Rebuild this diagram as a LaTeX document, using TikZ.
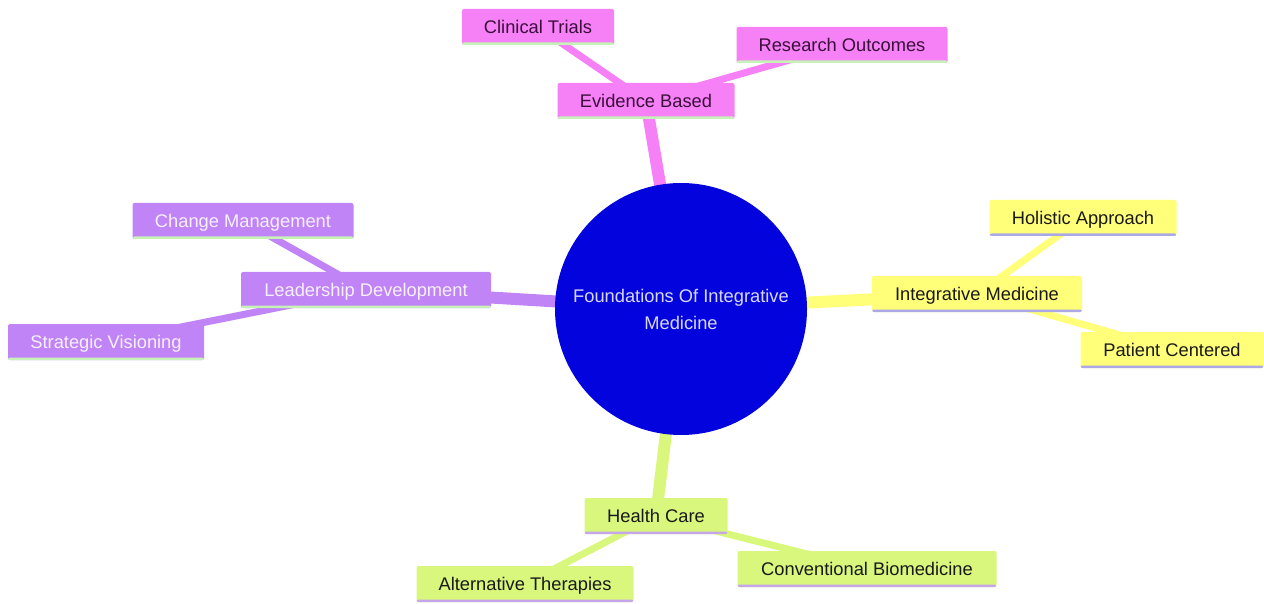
\documentclass[tikz,border=0pt]{standalone}
\usepackage{fontspec}
\setmainfont{Liberation Sans}
\usetikzlibrary{backgrounds}

\definecolor{rootblue}{HTML}{0303DE}
\definecolor{roottext}{HTML}{D8D8F6}
\definecolor{evpink}{HTML}{F680F6}
\definecolor{evtext}{HTML}{3A0F3A}
\definecolor{ldpurple}{HTML}{C084F6}
\definecolor{ldtext}{HTML}{F6F0FF}
\definecolor{imyellow}{HTML}{FFFF7A}
\definecolor{hcgreen}{HTML}{D9F77C}
\definecolor{lineGreen}{HTML}{C6F2B8}
\definecolor{lineLilac}{HTML}{ABA8E8}
\definecolor{linePurple}{HTML}{C5A6E8}

\tikzset{
  topic/.style 2 args={rectangle, rounded corners=2pt, fill=#1, inner sep=0pt,
    minimum height=36pt, text height=13.5pt, text depth=0.4pt,
    font=\fontsize{18.3}{22}\selectfont,
    path picture={\fill[#2] ([yshift=-0.5pt]path picture bounding box.south west) rectangle ([yshift=2.5pt]path picture bounding box.south east);}},
  evbox/.style={topic={evpink}{lineGreen}, text=evtext},
  ldbox/.style={topic={ldpurple}{lineGreen}, text=ldtext},
  imbox/.style={topic={imyellow}{lineLilac}, text=black!90},
  hcbox/.style={topic={hcgreen}{linePurple}, text=black!90},
  branch/.style={line width=12pt},
  twig/.style={line width=7pt}
}

\begin{document}
\begin{tikzpicture}[x=1pt,y=-1pt]
	\useasboundingbox (0,0) rectangle (1264,604);
	
	% root
	\node[circle, fill=rootblue, minimum size=252pt, inner sep=0pt, text=roottext, align=center,
	      font=\fontsize{18.3}{27}\selectfont] (root) at (681,309) {Foundations Of Integrative\\Medicine};
	
	% evidence branch
	\node[evbox, minimum width=177pt] (evid) at (646,101) {Evidence Based};
	\node[evbox, minimum width=152pt] (clin) at (538,27) {Clinical Trials};
	\node[evbox, minimum width=211pt] (resout) at (842,45) {Research Outcomes};
	
	% leadership branch
	\node[ldbox, minimum width=250pt] (lead) at (366,290) {Leadership Development};
	\node[ldbox, minimum width=221pt] (change) at (243,221) {Change Management};
	\node[ldbox, minimum width=196pt] (strat) at (106,342) {Strategic Visioning};
	
	% integrative branch
	\node[imbox, minimum width=210pt] (integ) at (977,294) {Integrative Medicine};
	\node[imbox, minimum width=187pt] (holist) at (1083,218) {Holistic Approach};
	\node[imbox, minimum width=183pt] (patient) at (1172,350) {Patient Centered};
	
	% health care branch
	\node[hcbox, minimum width=143pt] (health) at (656,516) {Health Care};
	\node[hcbox, minimum width=217pt] (altther) at (525,584) {Alternative Therapies};
	\node[hcbox, minimum width=259pt] (convbio) at (867,569) {Conventional Biomedicine};
	
	\begin{scope}[on background layer]
		\draw[branch, evpink] (root.center) -- (evid.center);
		\draw[twig, evpink] (evid.center) -- (clin.center);
		\draw[twig, evpink] (evid.center) -- (resout.center);
		
		\draw[branch, ldpurple] (root.center) -- (lead.center);
		\draw[twig, ldpurple] (lead.center) -- (change.center);
		\draw[twig, ldpurple] (lead.center) -- (strat.center);
		
		\draw[branch, imyellow] (root.center) -- (integ.center);
		\draw[twig, imyellow] (integ.center) -- (holist.center);
		\draw[twig, imyellow] (integ.center) -- (patient.center);
		
		\draw[branch, hcgreen] (root.center) -- (health.center);
		\draw[twig, hcgreen] (health.center) -- (altther.center);
		\draw[twig, hcgreen] (health.center) -- (convbio.center);
	\end{scope}
\end{tikzpicture}
\end{document}
